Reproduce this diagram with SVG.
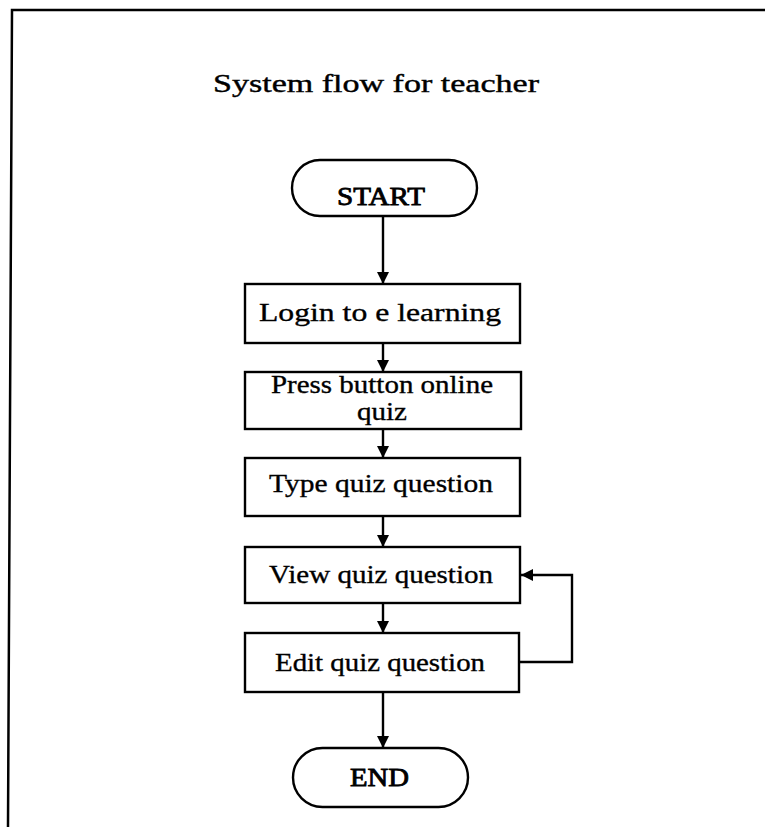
<svg xmlns="http://www.w3.org/2000/svg" width="765" height="827" viewBox="0 0 765 827">
  <style>
    .frame { fill: none; stroke: #000; stroke-width: 2.5; }
    .shape { fill: #fff; stroke: #000; stroke-width: 2.4; }
    .flow { fill: none; stroke: #000; stroke-width: 2.4; }
    .label { font-family: "Liberation Serif", "Times New Roman", serif; font-size: 26px; fill: #000; stroke: #000; stroke-width: 0.35; }
    .term { font-family: "Liberation Serif", "Times New Roman", serif; font-size: 25px; fill: #000; stroke: #000; stroke-width: 0.8; }
    .title { font-family: "Liberation Serif", "Times New Roman", serif; font-size: 25px; fill: #000; stroke: #000; stroke-width: 0.4; }
  </style>
  <defs>
    <marker id="arrow" viewBox="0 0 12 12" refX="12" refY="6" markerWidth="12" markerHeight="12" markerUnits="userSpaceOnUse" orient="auto">
      <path d="M0,0 L12,6 L0,12 Z" fill="#000"/>
    </marker>
  </defs>

  <rect width="765" height="827" fill="#fff"/>

  <!-- page frame: top and left rules -->
  <path class="frame" d="M765,10 L12,10 L8,827"/>

  <text class="title" x="213" y="92" textLength="326" lengthAdjust="spacingAndGlyphs">System flow for teacher</text>

  <g id="connectors">
    <line class="flow" x1="383" y1="216" x2="383" y2="284" marker-end="url(#arrow)"/>
    <line class="flow" x1="383" y1="343" x2="383" y2="372" marker-end="url(#arrow)"/>
    <line class="flow" x1="383" y1="429" x2="383" y2="458" marker-end="url(#arrow)"/>
    <line class="flow" x1="383" y1="516" x2="383" y2="547" marker-end="url(#arrow)"/>
    <line class="flow" x1="383" y1="603" x2="383" y2="633" marker-end="url(#arrow)"/>
    <line class="flow" x1="383" y1="692" x2="383" y2="748" marker-end="url(#arrow)"/>
    <polyline class="flow" points="520,662 572,662 572,575 521,575" marker-end="url(#arrow)"/>
  </g>

  <g id="start">
    <rect class="shape" x="292" y="160" width="185" height="56" rx="28" ry="28"/>
    <text class="term" x="337" y="205" textLength="88" lengthAdjust="spacingAndGlyphs">START</text>
  </g>

  <g id="login">
    <rect class="shape" x="245" y="284" width="275" height="59"/>
    <text class="label" x="259" y="321" textLength="242" lengthAdjust="spacingAndGlyphs">Login to e learning</text>
  </g>

  <g id="press-button">
    <rect class="shape" x="245" y="372" width="276" height="57"/>
    <text class="label" x="271" y="393" textLength="222" lengthAdjust="spacingAndGlyphs">Press button online</text>
    <text class="label" x="357" y="420" textLength="50" lengthAdjust="spacingAndGlyphs">quiz</text>
  </g>

  <g id="type-question">
    <rect class="shape" x="245" y="458" width="275" height="58"/>
    <text class="label" x="269" y="492" textLength="224" lengthAdjust="spacingAndGlyphs">Type quiz question</text>
  </g>

  <g id="view-question">
    <rect class="shape" x="245" y="547" width="275" height="56"/>
    <text class="label" x="269" y="583" textLength="224" lengthAdjust="spacingAndGlyphs">View quiz question</text>
  </g>

  <g id="edit-question">
    <rect class="shape" x="245" y="633" width="274" height="59"/>
    <text class="label" x="275" y="671" textLength="210" lengthAdjust="spacingAndGlyphs">Edit quiz question</text>
  </g>

  <g id="end">
    <rect class="shape" x="293" y="748" width="175" height="59" rx="29.5" ry="29.5"/>
    <text class="term" x="350" y="786" textLength="59" lengthAdjust="spacingAndGlyphs">END</text>
  </g>
</svg>
